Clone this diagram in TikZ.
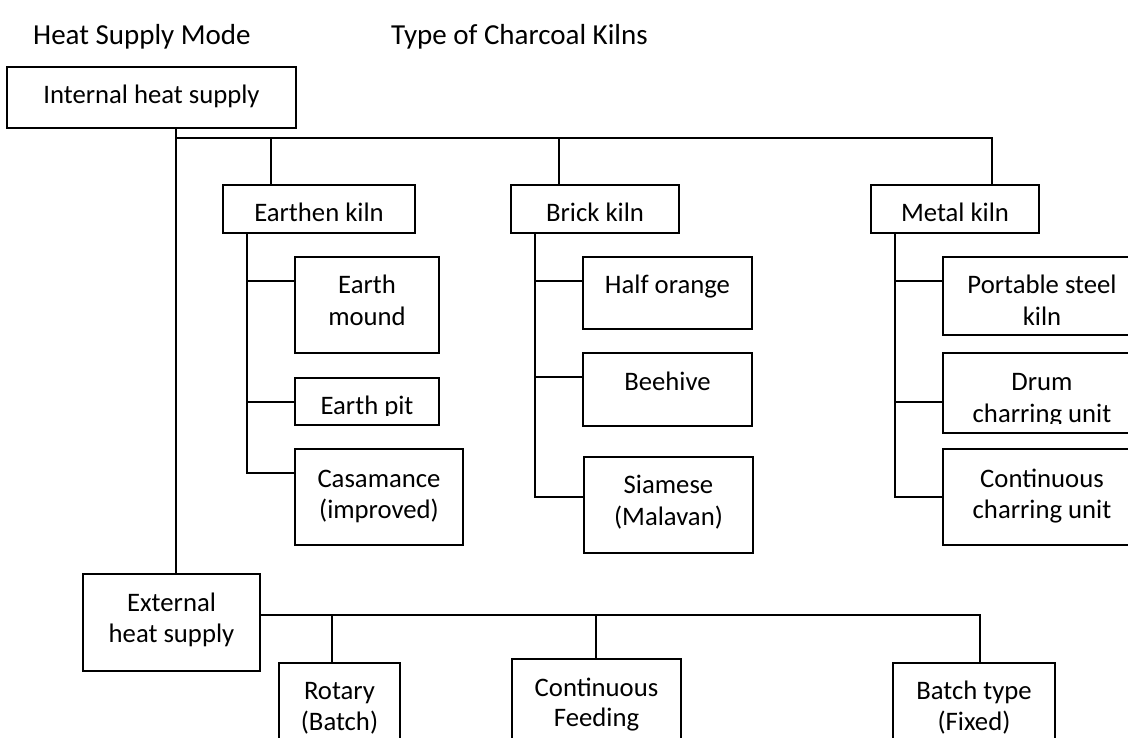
\documentclass[tikz,border=0pt]{standalone}
\usepackage{fontspec}
\setmainfont{Carlito}
\usetikzlibrary{calc}
\tikzset{
  box/.style={draw, line width=1.5pt, inner sep=0pt, fill=none},
  lbl/.style={anchor=base, inner sep=0pt, font=\fontsize{26.7}{32}\selectfont},
  head/.style={anchor=base west, inner sep=0pt, font=\fontsize{29}{35}\selectfont},
  conn/.style={line width=1.5pt}
}
\begin{document}
\begin{tikzpicture}[x=1pt,y=-1pt]
\fill[white] (0,0) rectangle (1128,738);
\clip (0,0) rectangle (1128,738);
% headings
\node[head] (h1) at (33,45) {Heat Supply Mode};
\node[head] (h2) at (391,45) {Type of Charcoal Kilns};
% boxes
\node[box, minimum width=289pt, minimum height=61pt] (int) at (151.5,97.5) {};
\node[box, minimum width=192pt, minimum height=48pt] (earthen) at (319,209) {};
\node[box, minimum width=168pt, minimum height=48pt] (brick) at (595,209) {};
\node[box, minimum width=168pt, minimum height=48pt] (metal) at (955,209) {};
\node[box, minimum width=144pt, minimum height=96pt] (mound) at (367,305) {};
\node[box, minimum width=144pt, minimum height=47pt] (pit) at (367,401.5) {};
\node[box, minimum width=168pt, minimum height=96pt] (cas) at (379,497) {};
\node[box, minimum width=169pt, minimum height=72pt] (half) at (667.5,293) {};
\node[box, minimum width=169pt, minimum height=73pt] (bee) at (667.5,389.5) {};
\node[box, minimum width=169pt, minimum height=96pt] (siam) at (668.5,505) {};
\node[box, minimum width=198pt, minimum height=78pt] (port) at (1042,296) {};
\node[box, minimum width=198pt, minimum height=80pt] (drum) at (1042,393) {};
\node[box, minimum width=198pt, minimum height=96pt] (cont) at (1042,497) {};
\node[box, minimum width=177pt, minimum height=97pt] (ext) at (171.5,622.5) {};
\node[box, minimum width=121pt, minimum height=97pt] (rot) at (339.5,711.5) {};
\node[box, minimum width=169pt, minimum height=101pt] (feed) at (596.5,709.5) {};
\node[box, minimum width=162pt, minimum height=97pt] (batch) at (974,711.5) {};
% texts
\node[lbl] (tint) at (151.5,104) {Internal heat supply};
\node[lbl] (tearthen) at (319,222) {Earthen kiln};
\node[lbl] (tbrick) at (595,222) {Brick kiln};
\node[lbl] (tmetal) at (955,222) {Metal kiln};
\node[lbl] (tmound1) at (367,294) {Earth};
\node[lbl] (tmound2) at (367,326) {mound};
\begin{scope}
  \clip (295,378) rectangle (439,415);
  \node[lbl] (tpit) at (367,414) {Earth pit};
\end{scope}
\node[lbl] (tcas1) at (379,487) {Casamance};
\node[lbl] (tcas2) at (379,518) {(improved)};
\node[lbl] (thalf) at (667.5,294) {Half orange};
\node[lbl] (tbee) at (667.5,390) {Beehive};
\node[lbl] (tsiam1) at (668.5,493) {Siamese};
\node[lbl] (tsiam2) at (668.5,525) {(Malavan)};
\node[lbl] (tport1) at (1042,294) {Portable steel};
\node[lbl] (tport2) at (1042,326) {kiln};
\node[lbl] (tdrum1) at (1042,390) {Drum};
\begin{scope}
  \clip (943,353) rectangle (1141,423);
  \node[lbl] (tdrum2) at (1042,422) {charring unit};
\end{scope}
\node[lbl] (tcont1) at (1042,487) {Continuous};
\node[lbl] (tcont2) at (1042,518) {charring unit};
\node[lbl] (text1) at (171.5,611) {External};
\node[lbl] (text2) at (171.5,642) {heat supply};
\node[lbl] (trot1) at (339.5,699) {Rotary};
\node[lbl] (trot2) at (339.5,730) {(Batch)};
\node[lbl] (tfeed1) at (596.5,696) {Continuous};
\node[lbl] (tfeed2) at (596.5,726) {Feeding};
\node[lbl] (tbatch1) at (974,699) {Batch type};
\node[lbl] (tbatch2) at (974,730) {(Fixed)};
% connector coordinates
\coordinate (trunk) at (176,138);
\coordinate (bE) at (271,138);
\coordinate (bB) at (559,138);
\coordinate (bM) at (992,138);
\coordinate (sE1) at (247,281);
\coordinate (sE2) at (247,402);
\coordinate (sE3) at (247,473);
\coordinate (sB1) at (535,281);
\coordinate (sB2) at (535,377);
\coordinate (sB3) at (535,497);
\coordinate (sM1) at (895,281);
\coordinate (sM2) at (895,402);
\coordinate (sM3) at (895,497);
\coordinate (xbus) at (260,615);
\coordinate (xR) at (332,615);
\coordinate (xF) at (596,615);
\coordinate (xB) at (980,615);
% connectors
\draw[conn] (trunk |- int.south) -- (trunk |- ext.north);
\draw[conn] (trunk) -- (bM) -- (bM |- metal.north);
\draw[conn] (bE) -- (bE |- earthen.north);
\draw[conn] (bB) -- (bB |- brick.north);
\draw[conn] (sE1 |- earthen.south) -- (sE3) -- (sE3 -| cas.west);
\draw[conn] (sE1) -- (sE1 -| mound.west);
\draw[conn] (sE2) -- (sE2 -| pit.west);
\draw[conn] (sB1 |- brick.south) -- (sB3) -- (sB3 -| siam.west);
\draw[conn] (sB1) -- (sB1 -| half.west);
\draw[conn] (sB2) -- (sB2 -| bee.west);
\draw[conn] (sM1 |- metal.south) -- (sM3) -- (sM3 -| cont.west);
\draw[conn] (sM1) -- (sM1 -| port.west);
\draw[conn] (sM2) -- (sM2 -| drum.west);
\draw[conn] (ext.east |- xbus) -- (xB) -- (xB |- batch.north);
\draw[conn] (xR) -- (xR |- rot.north);
\draw[conn] (xF) -- (xF |- feed.north);
\end{tikzpicture}
\end{document}
